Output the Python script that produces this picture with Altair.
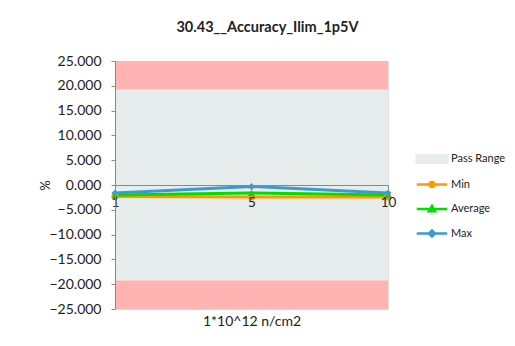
import altair as alt
import pandas as pd

# ---- data ----
doses = ["1", "5", "10"]
series = ["Min", "Average", "Max"]
min_vals = [-2.3, -2.4, -2.4]
avg_vals = [-2.0, -1.6, -2.0]
max_vals = [-1.6, -0.3, -1.6]

band_names = ["Fail High", "Pass Range", "Fail Low"]
band_lo = [19.2, -19.2, -25.0]
band_hi = [25.0, 19.2, -19.2]

y_ticks = [-25, -20, -15, -10, -5, 0, 5, 10, 15, 20, 25]

legend_domain = ["Pass Range", "Min", "Average", "Max"]
legend_colors = ["#E7ECEC", "#FF9900", "#00DD00", "#3D9AD1"]

# ---- tables ----
rows = []
for name, vals in zip(series, [min_vals, avg_vals, max_vals]):
    for d, v in zip(doses, vals):
        rows.append({"dose": d, "series": name, "value": v, "order": series.index(name)})
lines_df = pd.DataFrame(rows)
bands_df = pd.DataFrame({"name": band_names, "lo": band_lo, "hi": band_hi})

FONT = "Lato"

color_scale = alt.Scale(domain=legend_domain, range=legend_colors)
y_scale = alt.Scale(domain=[-25, 25], nice=False, zero=False)
x_scale = alt.Scale(type="point", padding=0)

shape_expr = (
    "datum.value === 'Pass Range' ? 'M-1.22,-0.3H1.22V0.3H-1.22Z' : "
    "datum.value === 'Min' ? 'M-1.22,0H1.22M-0.2,0A0.2,0.2 0 1,0 0.2,0A0.2,0.2 0 1,0 -0.2,0Z' : "
    "datum.value === 'Average' ? 'M-1.22,0H1.22M-0.25,0.18L0,-0.24L0.25,0.18Z' : "
    "'M-1.22,0H1.22M-0.24,0L0,-0.24L0.24,0L0,0.24Z'"
)
fill_expr = "scale('color', datum.value)"
stroke_expr = "datum.value === 'Pass Range' ? 'transparent' : scale('color', datum.value)"

legend = alt.Legend(
    title=None,
    orient="none",
    legendX=303,
    legendY=84,
    symbolSize=625,
    symbolType=alt.ExprRef(expr=shape_expr),
    symbolFillColor=alt.ExprRef(expr=fill_expr),
    symbolStrokeColor=alt.ExprRef(expr=stroke_expr),
    symbolStrokeWidth=2.5,
    symbolOpacity=1,
    labelOffset=5,
    labelFontSize=11,
    labelFont=FONT,
    labelColor="#222222",
    labelLimit=200,
    rowPadding=2.5,
)

y_axis = alt.Axis(
    values=y_ticks,
    format=".3f",
    title="%",
    titleFont=FONT,
    titleFontSize=13,
    titleFontWeight="normal",
    titleColor="#222222",
    titleX=-63,
    titleY=124,
    titleAngle=-90,
    labelFont=FONT,
    labelFontSize=14,
    labelColor="#222222",
    labelPadding=10,
    labelOverlap=False,
    labelBound=False,
    labelFlush=False,
    domainColor="#888888",
    tickColor="#888888",
    tickSize=4,
    grid=False,
    zindex=1,
)

x_axis = alt.Axis(
    title="1*10^12 n/cm2",
    titleFont=FONT,
    titleFontSize=14,
    titleFontWeight="normal",
    titleColor="#222222",
    titleY=129,
    labelFont=FONT,
    labelFontSize=13.5,
    labelColor="#222222",
    labelPadding=6,
    labelAngle=0,
    labelOverlap=False,
    labelFlush=False,
    offset=-124,
    domainColor="#888888",
    tickColor="#888888",
    tickSize=4,
    grid=False,
    zindex=1,
)

base_lines = alt.Chart(lines_df)

fail = alt.Chart(bands_df).transform_filter(
    alt.datum.name != "Pass Range"
).mark_rect(color="#FFB3B3").encode(
    y=alt.Y("lo:Q", scale=y_scale, axis=y_axis),
    y2="hi:Q",
    x=alt.value(0),
    x2=alt.value("width"),
)

passr = alt.Chart(bands_df).transform_filter(
    alt.datum.name == "Pass Range"
).mark_rect().encode(
    y=alt.Y("lo:Q", scale=y_scale, axis=y_axis),
    y2="hi:Q",
    x=alt.value(0),
    x2=alt.value("width"),
    color=alt.Color("name:N", scale=color_scale, legend=legend),
)

lines = base_lines.mark_line(strokeWidth=3).encode(
    x=alt.X("dose:N", sort=doses, scale=x_scale, axis=x_axis),
    y=alt.Y("value:Q", scale=y_scale, axis=y_axis),
    color=alt.Color("series:N", scale=color_scale, legend=legend),
    order="order:Q",
    detail="series:N",
)

points = base_lines.mark_point(filled=True, size=50, opacity=1).encode(
    x=alt.X("dose:N", sort=doses, scale=x_scale, axis=x_axis),
    y=alt.Y("value:Q", scale=y_scale, axis=y_axis),
    color=alt.Color("series:N", scale=color_scale, legend=legend),
    shape=alt.Shape(
        "series:N",
        scale=alt.Scale(domain=series, range=["circle", "triangle-up", "diamond"]),
        legend=None,
    ),
)

chart = alt.layer(fail, passr, lines, points).properties(
    width=273,
    height=248,
    autosize=alt.AutoSizeParams(type="none"),
    padding={"left": 107, "top": 53, "right": 119, "bottom": 30},
    title=alt.TitleParams(
        "30.43__Accuracy_Ilim_1p5V",
        font=FONT,
        fontSize=14.5,
        fontWeight="bold",
        color="#222222",
        anchor="middle",
        dx=16,
        offset=19,
    ),
).configure_view(stroke=None).configure_axis(labelOverlap=False).configure(background="white")

chart.save("out.html", embed_options={"renderer": "svg", "actions": False})
